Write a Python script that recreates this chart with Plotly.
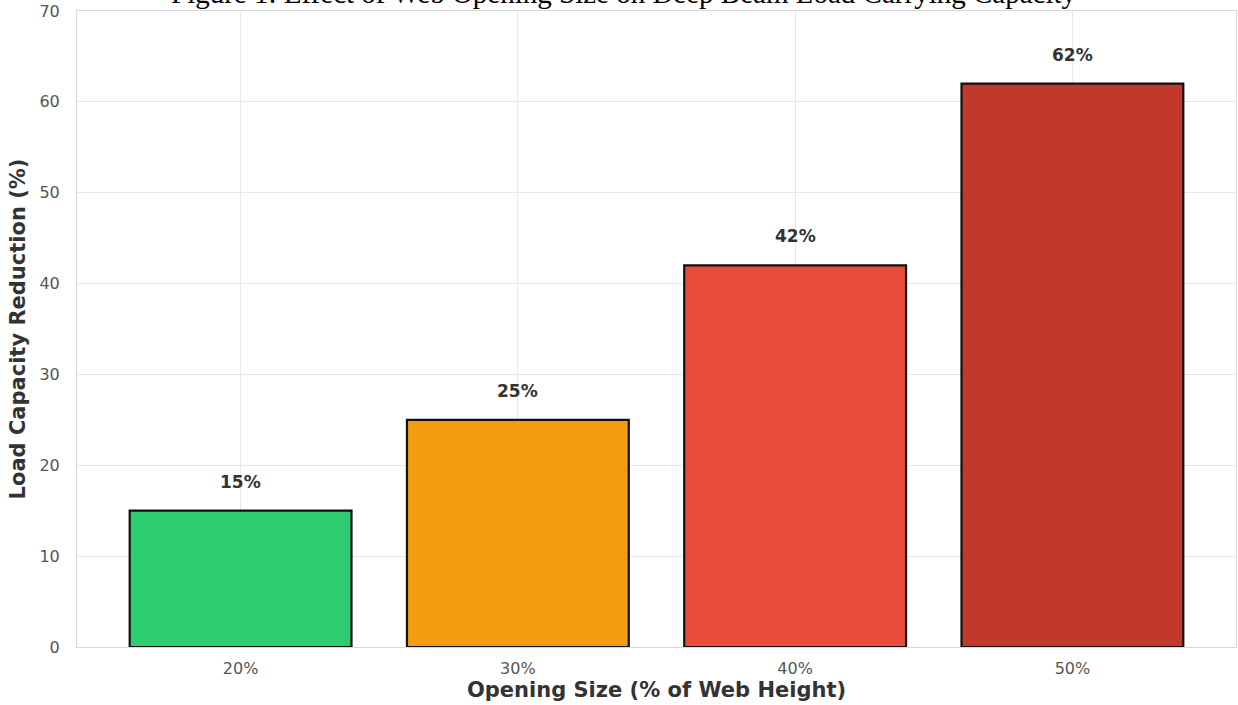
import plotly.graph_objects as go

categories = ["20%", "30%", "40%", "50%"]
reduction = [15, 25, 42, 62]
bar_colors = ["#2ecc71", "#f39c12", "#e74c3c", "#c0392b"]
y_ticks = [0, 10, 20, 30, 40, 50, 60, 70]

fig = go.Figure()
fig.add_trace(go.Bar(
    x=categories, y=reduction, width=0.8,
    marker=dict(color=bar_colors, line=dict(color="#111111", width=2.2)),
    hoverinfo="skip",
))

for c, v in zip(categories, reduction):
    fig.add_annotation(x=c, y=v + 2, text=f"<b>{v}%</b>", showarrow=False,
                       yanchor="bottom", xanchor="center", yshift=-1,
                       font=dict(family="DejaVu Sans", size=17, color="#333333"))

fig.add_annotation(xref="paper", yref="paper", x=0.5, y=1.0, yanchor="bottom",
                   text="Figure 1: Effect of Web Opening Size on Deep Beam Load Carrying Capacity",
                   showarrow=False, xshift=-33,
                   font=dict(family="Liberation Serif", size=29, color="black"))

grid = "#e8e8e8"
frame = "#d8d8d8"
fig.update_layout(
    width=1238, height=705,
    margin=dict(l=77, r=2, t=11, b=58),
    paper_bgcolor="white", plot_bgcolor="white",
    showlegend=False,
    font=dict(family="DejaVu Sans", color="#555555"),
    xaxis=dict(
        type="category", range=[-0.59, 3.59],
        showgrid=True, gridcolor=grid, gridwidth=1,
        showline=True, linecolor=frame, linewidth=1, mirror=True,
        ticks="", ticklabelstandoff=7,
        tickfont=dict(size=16, color="#555555"),
        title=dict(text="<b>Opening Size (% of Web Height)</b>", standoff=4,
                   font=dict(size=21, color="#333333")),
    ),
    yaxis=dict(
        range=[0, 70], tickvals=y_ticks,
        showgrid=True, gridcolor=grid, gridwidth=1,
        showline=True, linecolor=frame, linewidth=1, mirror=True,
        zeroline=False, ticks="", ticklabelstandoff=13,
        tickfont=dict(size=16, color="#555555"),
        title=dict(text="<b>Load Capacity Reduction (%)</b>", standoff=8,
                   font=dict(size=21, color="#333333")),
    ),
)

fig.write_html("out.html")
